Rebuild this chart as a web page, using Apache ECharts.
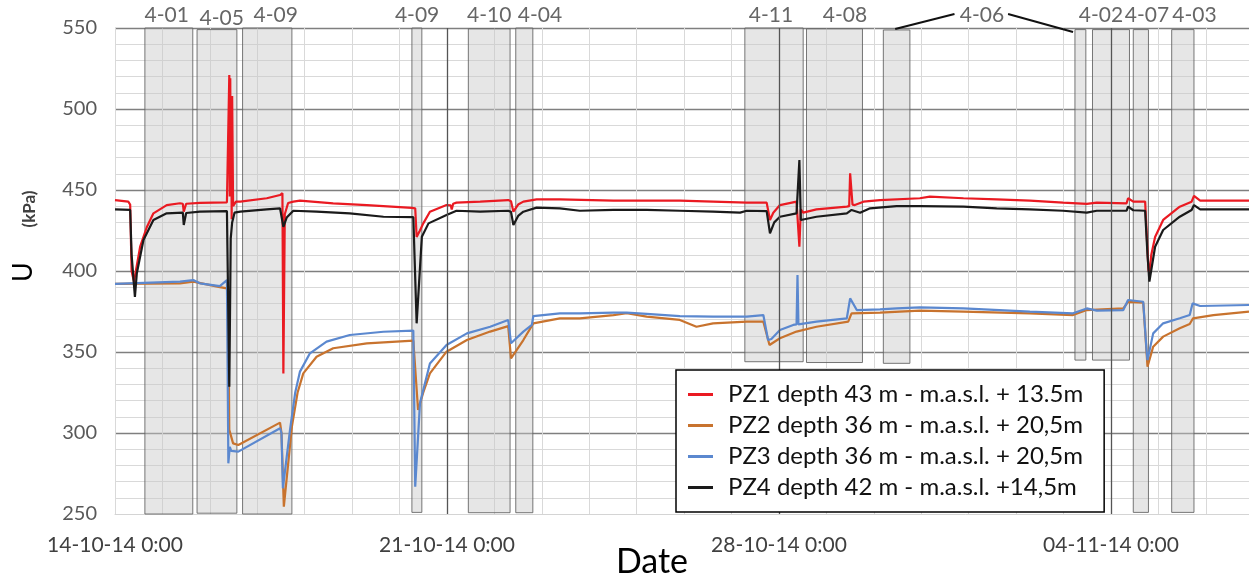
<!DOCTYPE html>
<html><head><meta charset="utf-8">
<script src="https://cdn.jsdelivr.net/npm/echarts@6/dist/echarts.min.js"></script>
<style>html,body{margin:0;padding:0;background:#fff}#c{width:1249px;height:579px}</style>
</head><body><div id="c"></div>
<script>
// x values are days since 14-10-14 0:00
const tickLabels = ["14-10-14 0:00","21-10-14 0:00","28-10-14 0:00","04-11-14 0:00"];
const weekDays = [7,14,21];
const seriesNames = ["PZ1 depth 43 m - m.a.s.l. + 13.5m","PZ2 depth 36 m - m.a.s.l. + 20,5m","PZ3 depth 36 m - m.a.s.l. + 20,5m","PZ4 depth 42 m - m.a.s.l. +14,5m"];

const pz1Days = [0,0.28,0.32,0.35,0.40,0.44,0.53,0.67,0.81,1.09,1.37,1.43,1.45,1.50,1.79,2.36,2.39,2.41,2.42,2.43,2.44,2.45,2.46,2.47,2.49,2.55,2.64,3.20,3.48,3.53,3.55,3.58,3.65,3.76,3.90,4.60,5.31,6.26,6.33,6.36,6.43,6.50,6.64,6.99,7.08,7.10,7.13,7.20,7.70,8.29,8.35,8.40,8.50,8.61,8.89,9.38,10.51,11.91,12.61,13.32,13.74,13.81,13.88,14.02,14.37,14.41,14.43,14.46,14.51,14.79,15.43,15.48,15.50,15.55,15.60,15.78,16.13,16.97,17.18,17.89,18.59,19.29,19.99,20.49,20.70,21.33,21.36,21.47,21.72,21.79,21.81,21.85,21.93,22.10,22.45,22.70,22.75,22.88,23.91];
const pz1Vals = [443.8,442.8,441,400,393.4,400,415,427,435.6,440.7,441.8,441.5,436.6,441.5,442,442.4,442,521,446,519,450,508,432,508,440,442.8,442.8,444.9,446.9,448,336.8,435,442,442.8,443.4,441.8,440.7,439,438.7,421,425,429.4,436.6,440.7,440.5,438,441.5,442.2,442.8,443.8,443,436.6,441,442.8,444.2,444.2,443.4,443.4,442.8,442.2,442.2,431.5,436,440.7,442.8,442.5,415,438,436,438,439.7,440,460.3,441,440.7,442.8,443.8,444.9,445.9,444.9,444.2,443.4,442.2,441.4,442.2,441.8,444.9,442.8,442.8,400.6,398.6,410,421,431.5,439.7,442.8,446.3,443.4,443.4];

const pz2Days = [0,1.37,1.65,2.21,2.36,2.39,2.41,2.49,2.60,3.48,3.51,3.56,3.73,3.85,3.97,4.25,4.60,5.31,6.29,6.31,6.39,6.50,6.64,6.99,7.42,7.91,8.29,8.35,8.61,8.82,9.38,9.80,10.51,10.79,11.21,11.91,12.26,12.61,13.32,13.67,13.80,14.02,14.37,14.79,15.46,15.53,16.13,16.97,17.89,19.29,20.20,20.49,21.26,21.36,21.68,21.77,21.89,22.10,22.45,22.66,22.73,23.16,23.91];
const pz2Vals = [392,392.4,393.4,390,389.3,380,301.9,293.6,292.6,306.4,300,254.5,304,325,336.8,347.1,352.3,355.3,357,356,314.2,325,336.8,350.2,357.4,362.6,366,346.1,357.4,367.7,370.8,370.8,372.8,373.9,371.8,369.8,365.6,367.7,368.7,368.7,354.3,358.5,362.6,365.6,368.7,373.9,374.3,375.5,374.9,373.9,372.8,375.9,376.9,381,380.4,341,353.3,359.5,364.6,367.3,370.8,372.8,374.9];

const pz3Days = [0,1.37,1.65,1.79,2.21,2.36,2.39,2.42,2.45,2.60,3.48,3.51,3.54,3.69,3.80,3.90,4.11,4.46,4.95,5.66,6.29,6.31,6.33,6.43,6.64,6.99,7.42,7.91,8.29,8.35,8.61,8.79,8.82,9.38,9.80,10.51,10.79,11.21,11.91,12.61,13.32,13.67,13.77,13.84,14.02,14.30,14.37,14.39,14.41,14.79,15.43,15.50,15.64,16.13,16.48,16.97,17.89,19.29,20.20,20.49,20.70,21.26,21.36,21.68,21.75,21.77,21.89,22.10,22.45,22.66,22.72,22.88,23.91];
const pz3Vals = [392,393.4,394.4,392.4,390.7,394.4,281.3,291.5,289,288.5,302.9,300,265.9,301.9,325,337.9,349.2,356.4,360.5,362.5,363.2,362.6,266.9,318.3,342.9,354.3,361.5,365.6,369.8,355.4,362.6,366.7,372.2,373.9,373.9,374.3,374.3,373.5,372.2,371.8,371.8,372.8,357.4,358,363.6,366.7,367,397.5,367,368.7,370.8,383.1,375.9,376.3,376.9,377.6,376.9,374.9,373.9,376.9,375.5,375.9,382.1,381,351.2,345,361.5,367.7,370.8,372.8,380,378.4,379];

const pz4Days = [0,0.32,0.35,0.42,0.46,0.60,0.81,1.09,1.43,1.45,1.50,1.79,2.36,2.39,2.41,2.44,2.47,2.52,2.64,3.20,3.48,3.55,3.62,3.76,4.25,4.95,5.66,6.29,6.33,6.36,6.47,6.61,6.99,7.20,7.70,8.29,8.35,8.40,8.50,8.61,8.89,9.38,9.80,10.51,11.21,11.91,12.61,13.18,13.32,13.74,13.81,13.90,14.02,14.37,14.41,14.43,14.46,14.79,15.43,15.53,15.71,15.92,16.48,16.97,17.89,18.59,19.29,19.99,20.49,20.70,21.33,21.36,21.47,21.72,21.77,21.81,21.93,22.10,22.45,22.70,22.75,22.88,23.91];
const pz4Vals = [438,437.7,410,384,398.6,419.1,431.5,435.6,436,428.4,435.8,436.6,437,436,328.6,420,430,436,436.6,438,438.7,427.3,433,437.2,436.6,435.6,433.5,433.2,432.5,367.7,421.2,429.4,434.6,437.2,436.6,437.2,436.5,428.4,434,436.6,439.1,438.7,437.2,437.7,437.7,437.2,436.6,436,437.2,437,423.3,430,433.5,435.6,436,468.5,431.5,433.5,435.6,437.7,436,438.7,440.1,440.1,439.7,438.7,438,437.2,436,437.2,437.2,439.7,437.5,437.2,410,393.4,415,425.3,433.5,437.7,440.7,438,438];

// shaded test periods (days, kPa)
const boxStart = [0.63,1.73,2.69,6.26,7.45,8.45,13.28,14.58,16.20,20.24,20.61,21.47,22.28];
const boxEnd   = [1.64,2.57,3.73,6.47,8.33,8.81,14.51,15.76,16.76,20.47,21.39,21.79,22.75];
const boxLow   = [250,250.5,250,251,250.8,250.8,344,343.5,343,345,345,251,251];
const boxHigh  = [550,549,550,550,549.5,550,550,549.5,548.8,549,549,549,549];

// top annotations
const noteText = ["4-01","4-05","4-09","4-09","4-10","4-04","4-11","4-08","4-06","4-02","4-07","4-03"];
const noteDay  = [1.09,2.25,3.39,6.37,7.89,8.96,13.83,15.39,18.28,20.79,21.76,22.76];
const noteKpa  = [557.6,555.8,557.6,557.6,557.6,557.6,557.6,557.6,557.9,557.9,557.9,557.9];
const leaderFrom = [[16.45,549.4],[18.83,558.6]];
const leaderTo   = [[17.70,558.6],[20.20,547.5]];

const colors = ['#ea1a22','#c8732e','#5b88cf','#1a1a1a'];
const FONT = 'Lato';

function pairs(d, v){ return d.map((x,i)=>[x, v[i]]); }
const allData = [pairs(pz1Days,pz1Vals), pairs(pz2Days,pz2Vals), pairs(pz3Days,pz3Vals), pairs(pz4Days,pz4Vals)];

const chart = echarts.init(document.getElementById('c'));
const lineSeries = allData.map((d,i)=>({
  name: seriesNames[i], type:'line', data:d, showSymbol:false, symbol:'none',
  lineStyle:{color:colors[i], width:2.2}, itemStyle:{color:colors[i]}, z: 2
}));
const leaderSeries = leaderFrom.map((f,i)=>({
  name:'leader'+i, type:'line', data:[f, leaderTo[i]], clip:false, silent:true, symbol:'none',
  lineStyle:{color:'#111', width:2}, z:4
}));

chart.setOption({
  animation:false,
  textStyle:{fontFamily:FONT},
  grid:{left:115, right:0, top:28, bottom:65, containLabel:false},
  xAxis:{
    type:'value', min:0, max:23.91, interval:1,
    axisLine:{show:true, lineStyle:{color:'#d4d4d4', width:1}},
    axisTick:{show:false},
    splitLine:{show:true, lineStyle:{color:'#d9d9d9', width:1}},
    axisLabel:{
      showMaxLabel:false, margin:21, fontSize:21, color:'#404040', fontFamily:FONT,
      formatter:function(v){ const k=Math.round(v); return (Math.abs(v-k)<1e-6 && k%7===0 && tickLabels[k/7]) ? tickLabels[k/7] : ''; }
    }
  },
  yAxis:{
    type:'value', min:250, max:550, interval:50,
    axisLine:{show:false}, axisTick:{show:false},
    axisLabel:{fontSize:20, color:'#595959', margin:18, fontFamily:FONT},
    splitLine:{show:true, showMinLine:false, lineStyle:{color:'#7f7f7f', width:1.3}},
    minorTick:{show:false, splitNumber:5},
    minorSplitLine:{show:true, lineStyle:{color:'#d9d9d9', width:1}}
  },
  legend:{
    data:seriesNames, orient:'vertical', left:676, top:370,
    padding:[12,21,12,12], itemGap:6, itemWidth:25, itemHeight:3, icon:'rect',
    backgroundColor:'#ffffff', borderColor:'#000000', borderWidth:1.5, borderRadius:0,
    textStyle:{fontSize:24, color:'#111', fontFamily:FONT, lineHeight:25, padding:[0,0,0,10]},
    selectedMode:false, z:10
  },
  graphic:[
    {type:'text', x:23, y:272, rotation:Math.PI/2, style:{text:'U', fontSize:27, fontFamily:FONT, fill:'#000', textAlign:'center', textVerticalAlign:'middle'}},
    {type:'text', x:30, y:209, rotation:Math.PI/2, style:{text:'(kPa)', fontSize:17, fontWeight:'bold', fontFamily:FONT, fill:'#404040', textAlign:'center', textVerticalAlign:'middle'}},
    {type:'text', x:652, y:562, style:{text:'Date', fontSize:34, fontFamily:FONT, fill:'#000', textAlign:'center', textVerticalAlign:'middle'}}
  ],
  series: lineSeries.concat([
    {
      name:'boxes', type:'line', data:[], z:3, silent:true,
      markArea:{silent:true,
        itemStyle:{color:'rgba(200,200,200,0.45)', borderColor:'rgba(95,95,95,0.85)', borderWidth:1},
        label:{show:false},
        data: boxStart.map((s,i)=>[{coord:[s, boxLow[i]]},{coord:[boxEnd[i], boxHigh[i]]}])
      },
      markLine:{silent:true, symbol:'none', label:{show:false},
        lineStyle:{color:'#555', width:1.3, type:'solid'},
        data: weekDays.map(d=>({xAxis:d}))
      }
    },
    {
      name:'notes', type:'scatter', z:4, clip:false, silent:true, symbolSize:0,
      data: noteDay.map((d,i)=>[d, noteKpa[i], noteText[i]]),
      label:{show:true, position:'inside', formatter:p=>p.data[2], fontSize:21, color:'#404040', fontFamily:FONT}
    }
  ]).concat(leaderSeries)
});
</script></body></html>
